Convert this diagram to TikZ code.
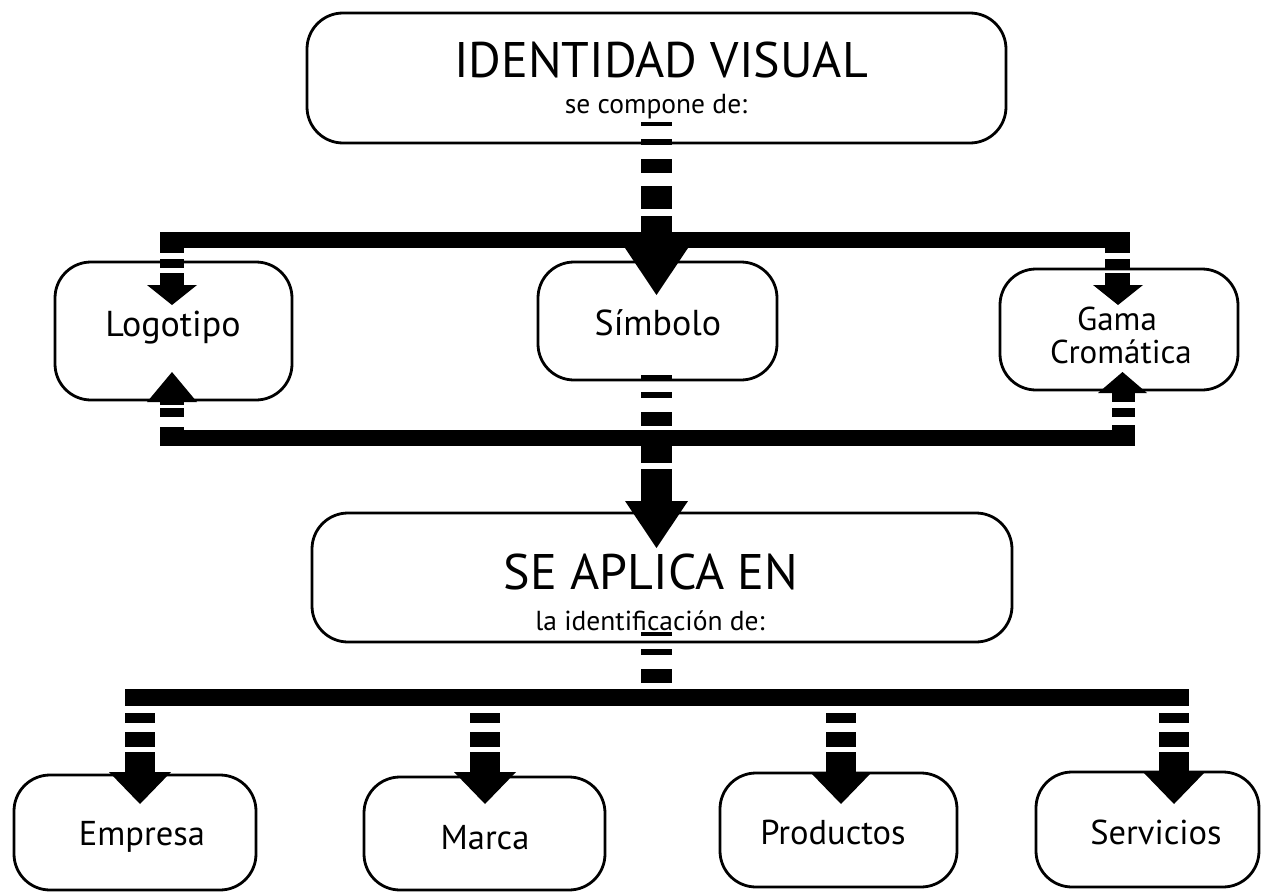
\documentclass[tikz,border=0pt]{standalone}
\usepackage{fontspec}
\setmainfont{PT Sans}
\begin{document}
\begin{tikzpicture}[x=1pt,y=-1pt,
  box/.style={draw=black,line width=2.8pt,fill=white,rounded corners=36pt,inner sep=0pt},
  lbl/.style={anchor=base,inner sep=0pt,text=black},
  big/.style={font=\fontsize{50}{52}\selectfont},
  sub/.style={font=\fontsize{27.5}{29}\selectfont},
  mid/.style={font=\fontsize{36}{38}\selectfont},
  bot/.style={font=\fontsize{34.5}{36}\selectfont},
  sml/.style={font=\fontsize{33}{35}\selectfont}]
\newcommand{\vstripes}[3]{\foreach \ya/\yb in {#3} {\fill[black] (#1,\ya) rectangle (#2,\yb);}}
\newcommand{\vhead}[4]{\fill[black] (#1,#3) -- (#2,#3) -- ({(#1+#2)/2},#4) -- cycle;}
\fill[white] (0,0) rectangle (1262,894);
\useasboundingbox (0,0) rectangle (1262,894);
% boxes
\node[box,minimum width=699pt,minimum height=130pt] (top) at (656.5,78) {};
\node[box,minimum width=237pt,minimum height=138pt] (logo) at (173.5,331) {};
\node[box,minimum width=239pt,minimum height=118pt] (simb) at (657.5,321) {};
\node[box,minimum width=238pt,minimum height=121pt] (gama) at (1119,329.5) {};
\node[box,minimum width=700pt,minimum height=129pt] (aplica) at (662,577.5) {};
\node[box,minimum width=242pt,minimum height=115pt] (empresa) at (135,832.5) {};
\node[box,minimum width=241pt,minimum height=113pt] (marca) at (484.5,833.5) {};
\node[box,minimum width=237pt,minimum height=114pt] (productos) at (838.5,830) {};
\node[box,minimum width=223pt,minimum height=115pt] (servicios) at (1147.5,829.5) {};
% texts
\node[lbl,big] (t1) at (661,77) {IDENTIDAD VISUAL};
\node[lbl,sub] (t2) at (656,113) {se compone de:};
\node[lbl,mid] (t3) at (173,336) {Logotipo};
\node[lbl,mid] (t4) at (658,335) {Símbolo};
\node[lbl,sml] (t5) at (1117,330) {Gama};
\node[lbl,sml] (t6) at (1121,363) {Cromática};
\node[lbl,big] (t7) at (651,589) {SE APLICA EN};
\node[lbl,sub] (t8) at (650,630) {la identificación de:};
\node[lbl,bot] (t9) at (142,845) {Empresa};
\node[lbl,bot] (t10) at (485,849) {Marca};
\node[lbl,bot] (t11) at (833,844) {Productos};
\node[lbl,bot] (t12) at (1156,844) {Servicios};
% top connector: top -> bar -> simb
\vstripes{641}{672}{122/126,139/145,159/173,186/209,216/248}
\vhead{625}{688}{248}{295}
\fill[black] (160,232) rectangle (1130,248);
% down to logo and gama
\vstripes{160}{184}{232/253,259/268,273/285}
\vhead{147}{197}{285}{305}
\vstripes{1105}{1130}{232/253,259/268,273/285}
\vhead{1093}{1143}{285}{305}
% up from lower bar to logo and gama
\vhead{147}{197}{402}{372}
\vstripes{160}{184}{402/405,408/417,427/446}
\vhead{1098}{1147}{393}{372}
\vstripes{1112}{1135}{393/402,408/417,425/446}
\fill[black] (160,430) rectangle (1135,446);
% middle connector simb -> aplica
\vstripes{641}{672}{375/380,392/398,412/426,446/463,469/501}
\vhead{625}{688}{501}{548}
% bottom connector
\vstripes{641}{672}{632/636,649/655,669/683}
\fill[black] (125,689) rectangle (1189,706);
\foreach \cx in {140,485,841,1174}{
  \vstripes{\cx-15}{\cx+15}{713/723,732/747,752/772}
  \vhead{\cx-31}{\cx+31}{772}{804}
}
\end{tikzpicture}
\end{document}
